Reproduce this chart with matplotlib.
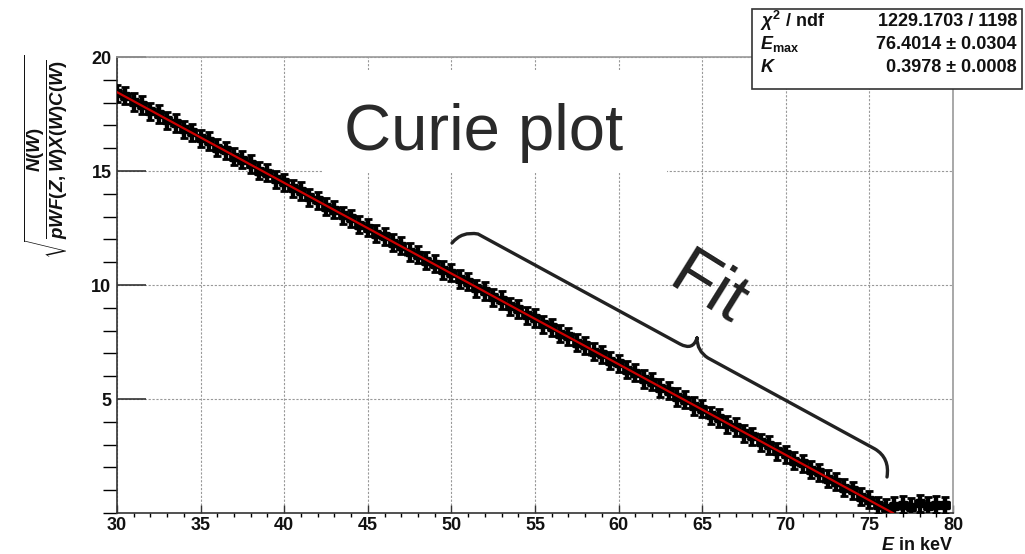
import numpy as np
import matplotlib
matplotlib.use("Agg")
import matplotlib.pyplot as plt
from matplotlib.patches import Rectangle, PathPatch
from matplotlib.path import Path

# --- data ------------------------------------------------------------------
E_FIRST, E_STEP, N_BINS = 30.0, 0.5, 100      # bin centres 30.0 ... 79.5 keV
curie = [18.40, 18.31, 18.02, 17.90, 17.61, 17.50, 17.22, 17.11, 16.83, 16.70,
         16.44, 16.31, 16.02, 15.91, 15.63, 15.50, 15.30, 15.02, 14.92, 14.64,
         14.51, 14.24, 14.12, 13.84, 13.72, 13.44, 13.31, 13.05, 12.93, 12.64,
         12.52, 12.25, 12.13, 11.85, 11.73, 11.45, 11.33, 11.06, 10.93, 10.66,
         10.54, 10.26, 10.14, 9.86, 9.74, 9.46, 9.34, 9.07, 8.95, 8.67,
         8.55, 8.27, 8.15, 7.87, 7.75, 7.47, 7.35, 7.08, 6.96, 6.68,
         6.56, 6.28, 6.16, 5.88, 5.76, 5.48, 5.36, 5.09, 4.97, 4.69,
         4.57, 4.29, 4.17, 3.89, 3.77, 3.49, 3.37, 3.10, 2.98, 2.70,
         2.58, 2.30, 2.18, 1.90, 1.78, 1.50, 1.38, 1.11, 0.99, 0.71,
         0.59, 0.33, 0.22, 0.30, 0.36, 0.28, 0.42, 0.31, 0.37, 0.33]
curie_err = 0.38

# fit result shown in the stats box
chi2, ndf = "1229.1703", "1198"
e_max, e_max_err = 76.4014, 0.0304
k_fit, k_fit_err = 0.3978, 0.0008

W, H = 1025, 554


def fx(x):
    return x / W


def fy(y):
    return 1 - y / H


plt.rcParams["font.family"] = ["Liberation Sans", "DejaVu Sans"]
plt.rcParams["mathtext.fontset"] = "custom"
plt.rcParams["mathtext.it"] = "Liberation Sans:bold:italic"
plt.rcParams["mathtext.rm"] = "Liberation Sans:bold"
plt.rcParams["mathtext.bf"] = "Liberation Sans:bold"

fig = plt.figure(figsize=(W / 100, H / 100), dpi=100)
ax = fig.add_axes([fx(117), fy(513), fx(953) - fx(117), fy(57) - fy(513)])

energy = E_FIRST + E_STEP * np.arange(N_BINS)
ax.errorbar(energy, curie, yerr=curie_err, xerr=E_STEP / 2, fmt="s", ms=5.5,
            color="black", ecolor="black", elinewidth=3.2, capsize=3,
            capthick=2, zorder=3)

e_fit = np.array([30.0, e_max])
ax.plot(e_fit, k_fit * (e_max - e_fit), color="#cc0000", lw=1.6, zorder=4)

ax.set_xlim(30, 80)
ax.set_ylim(0, 20)
ax.set_xticks(np.arange(30, 81, 5))
ax.set_xticks(np.arange(30, 81, 1), minor=True)
ax.set_yticks([5, 10, 15, 20])
ax.set_yticks(np.arange(0, 21, 1), minor=True)
ax.tick_params(direction="in", colors="#333333", labelcolor="#111111",
               labelsize=13)
ax.tick_params(axis="x", which="major", length=6, width=1, pad=3)
ax.tick_params(axis="x", which="minor", length=3, width=1)
ax.tick_params(axis="y", which="major", length=21, width=1.2, pad=4)
ax.tick_params(axis="y", which="minor", length=10, width=1)
for lab in ax.get_xticklabels() + ax.get_yticklabels():
    lab.set_fontweight("bold")
ax.grid(True, which="major", color="#999999", lw=0.8, ls=(0, (2, 1.5)))
ax.set_axisbelow(True)
for side in ("left", "bottom"):
    ax.spines[side].set_color("#333333")
    ax.spines[side].set_linewidth(1.2)
for side in ("top", "right"):
    ax.spines[side].set_color("#9a9a9a")
    ax.spines[side].set_linewidth(1.2)

fig.text(fx(953), fy(545), "$E$ in keV", ha="right", va="center",
         fontsize=13, fontweight="bold", color="#111111")
fig.text(fx(46), fy(55), r"$\sqrt{\dfrac{N(W)}{pWF(Z,W)X(W)C(W)}}$",
         rotation=90, ha="center", va="top", fontsize=13.5, color="#111111")

# white label box for "Curie plot"
fig.patches.append(Rectangle((fx(322), fy(173)), fx(667) - fx(322), fy(70) - fy(173),
                             transform=fig.transFigure, facecolor="white",
                             edgecolor="none", zorder=1))
fig.text(fx(484), fy(150), "Curie plot", ha="center", va="baseline",
         fontsize=47, color="#2a2a2a", zorder=5)

# curly brace marking the fit range
pts = [(452, 243), (462, 231), (478, 234), (680, 344), (693, 351), (697, 338),
       (697, 338), (697, 351), (708, 358), (875, 449), (890, 458), (887, 477)]
codes = [Path.MOVETO, Path.CURVE3, Path.CURVE3, Path.LINETO, Path.CURVE3, Path.CURVE3,
         Path.MOVETO, Path.CURVE3, Path.CURVE3, Path.LINETO, Path.CURVE3, Path.CURVE3]
brace = Path([(fx(x), fy(y)) for x, y in pts], codes)
fig.patches.append(PathPatch(brace, transform=fig.transFigure, facecolor="none",
                             edgecolor="#222222", lw=2.4, capstyle="round", zorder=5))
fig.text(fx(708), fy(290), "Fit", ha="center", va="center", rotation=-32,
         rotation_mode="anchor", fontsize=50, color="#222222", zorder=5)

# stats box
fig.patches.append(Rectangle((fx(752), fy(89)), fx(1022) - fx(752), fy(9) - fy(89),
                             transform=fig.transFigure, facecolor="white",
                             edgecolor="#333333", lw=1.2, zorder=6))
rows = [(r"$\chi^{2}$ / ndf", f"{chi2} / {ndf}"),
        (r"$E_{\rm max}$", f"{e_max:.4f} \u00b1 {e_max_err:.4f}"),
        (r"$K$", f"{k_fit:.4f} \u00b1 {k_fit_err:.4f}")]
for i, (name, value) in enumerate(rows):
    y = fy(21 + 23.5 * i)
    fig.text(fx(760), y, name, ha="left", va="center", fontsize=13,
             fontweight="bold", color="#111111", zorder=7)
    fig.text(fx(1017), y, value, ha="right", va="center", fontsize=13,
             fontweight="bold", color="#111111", zorder=7)

fig.savefig("out.png", dpi=100, facecolor="white")
